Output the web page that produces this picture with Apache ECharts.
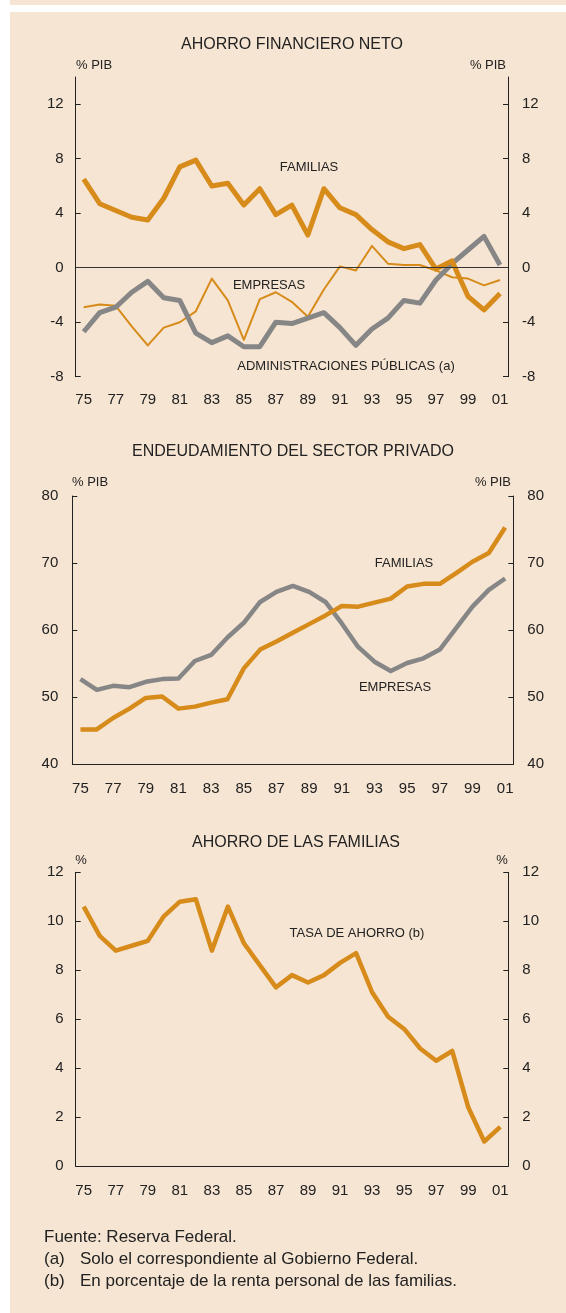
<!DOCTYPE html>
<html>
<head>
<meta charset="utf-8">
<script src="https://cdn.jsdelivr.net/npm/echarts@6/dist/echarts.min.js"></script>
<style>
html, body { margin: 0; padding: 0; background: #fff; }
#strip { position: absolute; left: 10px; top: 0; width: 556px; height: 5px; background: #F6E5D2; }
#panel { position: absolute; left: 10px; top: 12px; width: 556px; height: 1301px; background: #F6E5D2; }
#chart { position: absolute; left: 0; top: 0; width: 566px; height: 1313px; }
</style>
</head>
<body>
<div id="strip"></div>
<div id="panel"></div>
<div id="chart"></div>
<script>
var years = ['75', '76', '77', '78', '79', '80', '81', '82', '83', '84', '85', '86', '87', '88', '89',
    '90', '91', '92', '93', '94', '95', '96', '97', '98', '99', '00', '01'];

// ahorro financiero neto, % PIB
var ahorroFamilias = [6.5, 4.7, 4.2, 3.7, 3.5, 5.1, 7.4, 7.9, 6.0, 6.2, 4.6, 5.8, 3.9, 4.6, 2.4,
    5.8, 4.4, 3.9, 2.8, 1.9, 1.4, 1.7, -0.1, 0.5, -2.1, -3.1, -1.9];
var ahorroEmpresas = [-2.9, -2.7, -2.8, -4.3, -5.7, -4.4, -4.0, -3.2, -0.8, -2.4, -5.3, -2.3, -1.8, -2.5, -3.6,
    -1.6, 0.1, -0.2, 1.6, 0.3, 0.2, 0.2, -0.2, -0.7, -0.8, -1.3, -0.9];
var ahorroAdmin = [-4.7, -3.3, -2.9, -1.8, -1.0, -2.2, -2.4, -4.8, -5.5, -5.0, -5.8, -5.8, -4.0, -4.1, -3.7,
    -3.3, -4.4, -5.7, -4.5, -3.7, -2.4, -2.6, -0.9, 0.3, 1.3, 2.3, 0.2];

// endeudamiento del sector privado, % PIB
var deudaFamilias = [45.2, 45.2, 46.9, 48.3, 49.9, 50.1, 48.3, 48.6, 49.2, 49.7, 54.3, 57.1, 58.3, 59.6, 60.9,
    62.2, 63.6, 63.5, 64.1, 64.7, 66.5, 66.9, 66.9, 68.5, 70.2, 71.5, 75.3];
var deudaEmpresas = [52.7, 51.1, 51.7, 51.5, 52.3, 52.7, 52.8, 55.4, 56.3, 58.9, 61.1, 64.2, 65.7, 66.6, 65.7,
    64.2, 61.0, 57.5, 55.3, 53.9, 55.1, 55.8, 57.1, 60.3, 63.5, 66.0, 67.7];

// tasa de ahorro, %
var tasaAhorro = [10.6, 9.4, 8.8, 9.0, 9.2, 10.2, 10.8, 10.9, 8.8, 10.6, 9.1, 8.2, 7.3, 7.8, 7.5,
    7.8, 8.3, 8.7, 7.1, 6.1, 5.6, 4.8, 4.3, 4.7, 2.4, 1.0, 1.6];

var ticksAhorro = [-8, -4, 0, 4, 8, 12];
var ticksDeuda = [40, 50, 60, 70, 80];
var ticksTasa = [0, 2, 4, 6, 8, 10, 12];

var FONT = '"Liberation Sans", Arial, sans-serif';
var INK = '#222';
var ORANGE = '#D68B1B';
var GREY = '#868686';

function yAxisDef(grid, position, min, max, ticks, margin) {
    return {
        type: 'value',
        gridIndex: grid,
        position: position,
        min: min,
        max: max,
        axisLine: {show: true, lineStyle: {color: INK, width: 1}},
        axisTick: {show: true, inside: true, length: 5, customValues: ticks, lineStyle: {color: INK}},
        axisLabel: {customValues: ticks, margin: margin, fontSize: 15, color: INK, fontFamily: FONT},
        splitLine: {show: false}
    };
}

function xAxisDef(grid, margin) {
    return {
        type: 'category',
        gridIndex: grid,
        data: years,
        boundaryGap: true,
        axisLine: {lineStyle: {color: INK, width: 1}},
        axisTick: {inside: true, length: 5, interval: 0, lineStyle: {color: INK}},
        axisLabel: {interval: 1, margin: margin, fontSize: 15, color: INK, fontFamily: FONT}
    };
}

function lineDef(xi, yi, data, color, width) {
    return {
        type: 'line',
        xAxisIndex: xi,
        yAxisIndex: yi,
        data: data,
        symbol: 'none',
        lineStyle: {color: color, width: width, join: 'round'},
        silent: true
    };
}

// text: [string, x, y, align, size]
var texts = [
    ['AHORRO FINANCIERO NETO', 292, 45, 'center', 16],
    ['% PIB', 76, 65, 'left', 13],
    ['% PIB', 506, 65, 'right', 13],
    ['FAMILIAS', 309, 167, 'center', 13],
    ['EMPRESAS', 269, 285, 'center', 13],
    ['ADMINISTRACIONES PÚBLICAS (a)', 346, 366, 'center', 13],
    ['ENDEUDAMIENTO DEL SECTOR PRIVADO', 293, 452, 'center', 16],
    ['% PIB', 72, 482, 'left', 13],
    ['% PIB', 511, 482, 'right', 13],
    ['FAMILIAS', 404, 563, 'center', 13],
    ['EMPRESAS', 395, 687, 'center', 13],
    ['AHORRO DE LAS FAMILIAS', 296, 843, 'center', 16],
    ['%', 81, 860, 'center', 13],
    ['%', 502, 860, 'center', 13],
    ['TASA DE AHORRO (b)', 357, 933, 'center', 13],
    ['Fuente: Reserva Federal.', 44, 1237, 'left', 17],
    ['(a)', 44, 1259, 'left', 17],
    ['Solo el correspondiente al Gobierno Federal.', 80, 1259, 'left', 17],
    ['(b)', 44, 1281, 'left', 17],
    ['En porcentaje de la renta personal de las familias.', 80, 1281, 'left', 17]
];

var graphics = texts.map(function(t) {
    return {
        type: 'text',
        silent: true,
        style: {
            text: t[0], x: t[1], y: t[2],
            textAlign: t[3], textVerticalAlign: 'middle',
            fill: INK, font: t[4] + 'px ' + FONT
        }
    };
});

var chart = echarts.init(document.getElementById('chart'));

var zeroLine = lineDef(0, 0, ahorroEmpresas, ORANGE, 2);
zeroLine.markLine = {
    silent: true,
    symbol: 'none',
    label: {show: false},
    lineStyle: {color: '#333', width: 1, type: 'solid'},
    data: [{yAxis: 0}]
};

var option = {
    animation: false,
    backgroundColor: 'transparent',
    textStyle: {fontFamily: FONT},
    grid: [
        {left: 75.7, right: 58, top: 77, height: 299.7},
        {left: 72.3, right: 52.7, top: 496, height: 268.3},
        {left: 75.7, right: 57.7, top: 872.3, height: 293.7}
    ],
    xAxis: [xAxisDef(0, 16), xAxisDef(1, 17.5), xAxisDef(2, 17)],
    yAxis: [
        yAxisDef(0, 'left', -8, 14, ticksAhorro, 12),
        yAxisDef(0, 'right', -8, 14, ticksAhorro, 14),
        yAxisDef(1, 'left', 40, 80, ticksDeuda, 14),
        yAxisDef(1, 'right', 40, 80, ticksDeuda, 14),
        yAxisDef(2, 'left', 0, 12, ticksTasa, 12),
        yAxisDef(2, 'right', 0, 12, ticksTasa, 14)
    ],
    series: [
        zeroLine,
        lineDef(0, 0, ahorroAdmin, GREY, 5),
        lineDef(0, 0, ahorroFamilias, ORANGE, 5),
        lineDef(1, 2, deudaEmpresas, GREY, 4.5),
        lineDef(1, 2, deudaFamilias, ORANGE, 4.5),
        lineDef(2, 4, tasaAhorro, ORANGE, 4.5)
    ],
    graphic: graphics
};

chart.setOption(option);
</script>
</body>
</html>
